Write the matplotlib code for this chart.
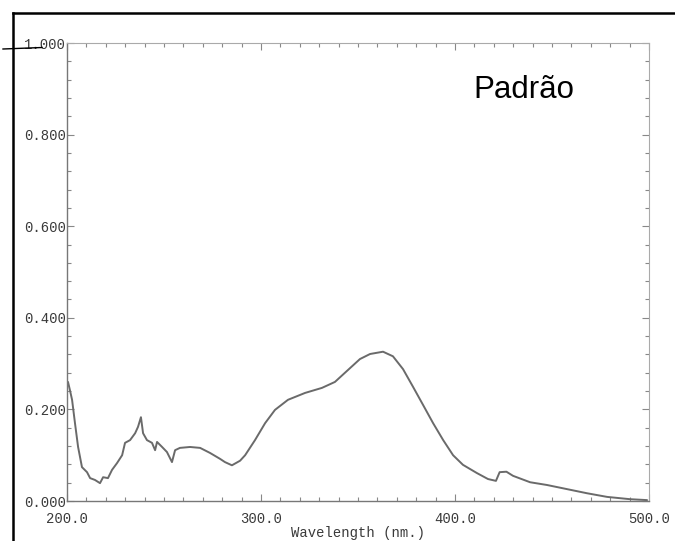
import matplotlib.pyplot as plt
import matplotlib as mpl
from matplotlib.lines import Line2D
from matplotlib.ticker import MultipleLocator, FormatStrFormatter

mpl.rcParams['font.family'] = 'Liberation Mono'
mpl.rcParams['font.size'] = 10

# absorbance spectrum of the reference solution
wavelength = [200.5, 201.5, 202.6, 204.1, 205.7, 207.7, 210.3, 211.9, 214.4, 217.0,
              218.6, 221.1, 223.2, 225.8, 228.4, 229.9, 232.5, 235.1, 236.6, 238.1,
              239.2, 241.2, 243.8, 245.4, 246.4, 249.0, 251.5, 254.1, 255.7, 258.2,
              263.4, 268.6, 273.7, 278.9, 281.4, 285.0, 289.2, 291.8, 296.9, 302.1,
              307.2, 313.9, 322.7, 331.4, 338.1, 344.8, 351.0, 356.2, 362.9, 368.0,
              373.2, 378.4, 383.5, 388.7, 393.9, 399.0, 404.1, 411.3, 417.0, 421.1,
              423.0, 426.5, 429.9, 438.7, 447.4, 457.7, 468.0, 478.4, 490.2, 499.0]
absorbance = [0.260, 0.242, 0.221, 0.170, 0.118, 0.074, 0.063, 0.050, 0.046, 0.039,
              0.052, 0.050, 0.068, 0.083, 0.100, 0.127, 0.133, 0.148, 0.162, 0.183,
              0.148, 0.133, 0.127, 0.111, 0.129, 0.118, 0.107, 0.085, 0.111, 0.116,
              0.118, 0.116, 0.105, 0.092, 0.085, 0.078, 0.088, 0.100, 0.133, 0.170,
              0.199, 0.221, 0.236, 0.247, 0.260, 0.286, 0.310, 0.321, 0.326, 0.316,
              0.288, 0.249, 0.210, 0.170, 0.133, 0.100, 0.079, 0.061, 0.048, 0.044,
              0.063, 0.064, 0.055, 0.041, 0.035, 0.026, 0.017, 0.009, 0.004, 0.002]

x_ticks = [200, 300, 400, 500]
y_ticks = [0.0, 0.2, 0.4, 0.6, 0.8, 1.0]
title = 'Padrão'

fig = plt.figure(figsize=(6.75, 5.41), dpi=100)
ax = fig.add_axes([0.0993, 0.0739, 0.8622, 0.8466])

ax.plot(wavelength, absorbance, color='#6a6a6a', lw=1.4,
        solid_joinstyle='round', solid_capstyle='round')

ax.set_xlim(200, 500)
ax.set_ylim(0, 1.0)
ax.set_xticks(x_ticks)
ax.set_yticks(y_ticks)
ax.xaxis.set_major_formatter(FormatStrFormatter('%.1f'))
ax.yaxis.set_major_formatter(FormatStrFormatter('%.3f'))
ax.xaxis.set_minor_locator(MultipleLocator(10))
ax.yaxis.set_minor_locator(MultipleLocator(0.04))

ax.tick_params(which='both', direction='in', top=True, right=True, colors='#888888',
               labelcolor='#3a3a3a', width=0.8)
ax.tick_params(which='major', length=5)
ax.tick_params(which='minor', length=3)
ax.tick_params(axis='y', pad=1)
ax.tick_params(axis='x', pad=8)

for side in ['left', 'bottom']:
    ax.spines[side].set_color('#777777')
    ax.spines[side].set_linewidth(1.0)
for side in ['top', 'right']:
    ax.spines[side].set_color('#aaaaaa')
    ax.spines[side].set_linewidth(0.8)

ax.set_xlabel('Wavelength (nm.)', color='#3a3a3a', labelpad=0)

fig.text(0.7007, 0.8189, title, family='Liberation Sans', fontsize=22.5,
         color='black', va='baseline', ha='left')

# black frame and pen mark
fig.add_artist(Line2D([13 / 675, 13 / 675], [0, 1 - 13 / 541],
                      transform=fig.transFigure, color='black', lw=1.8))
fig.add_artist(Line2D([13 / 675, 1], [1 - 13 / 541, 1 - 13 / 541],
                      transform=fig.transFigure, color='black', lw=1.8))
fig.add_artist(Line2D([3 / 675, 42 / 675], [1 - 49 / 541, 1 - 47.5 / 541],
                      transform=fig.transFigure, color='black', lw=1.0))

fig.savefig('out.png', dpi=100)
